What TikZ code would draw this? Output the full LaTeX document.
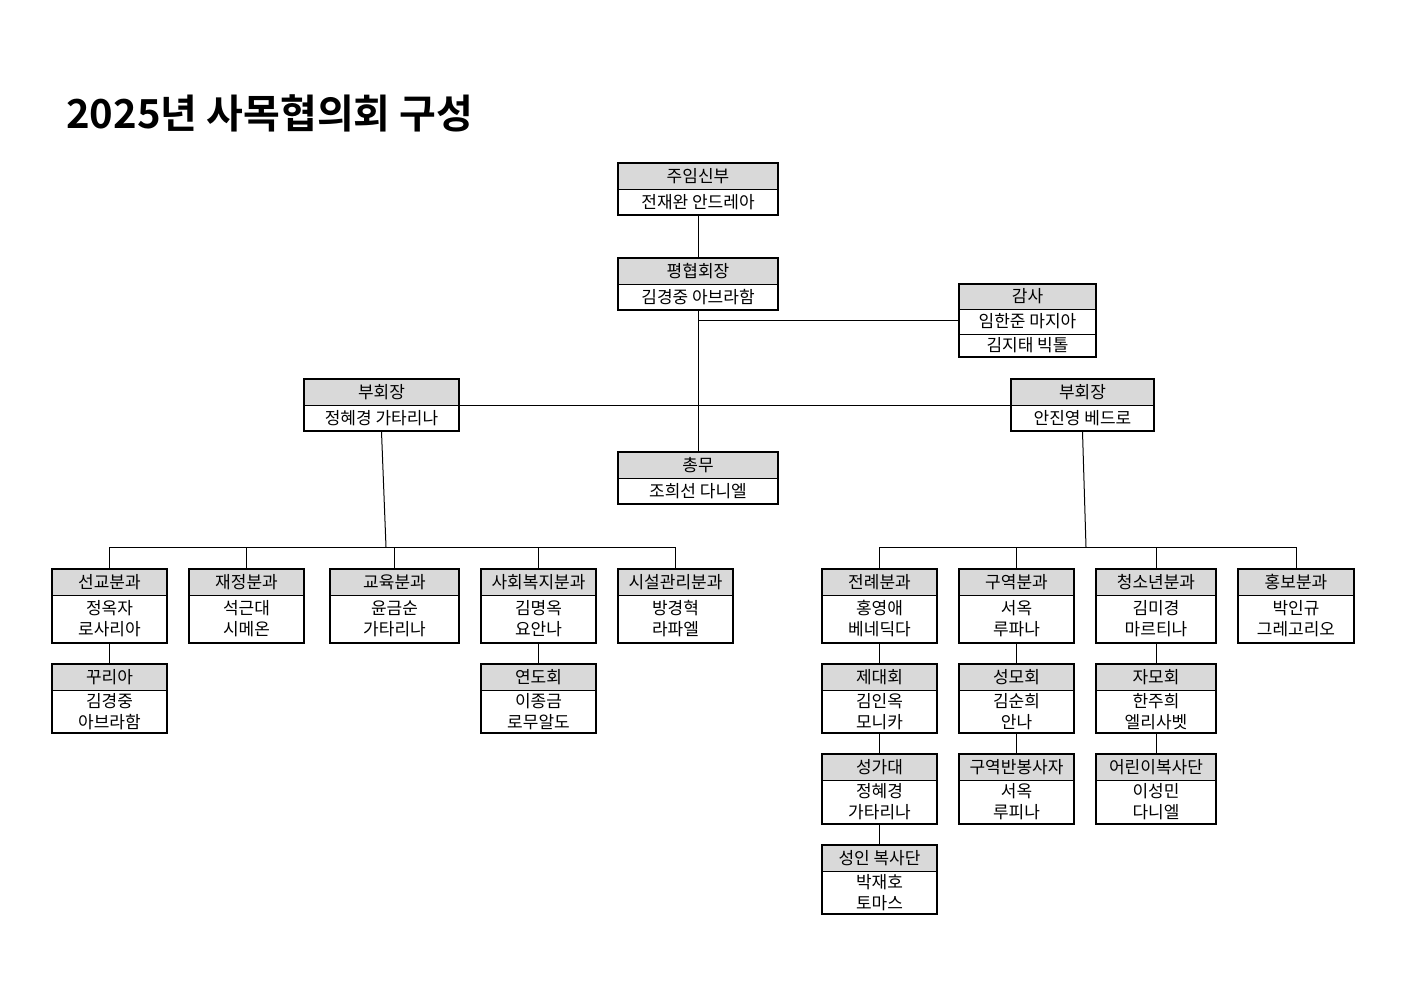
\documentclass[tikz,border=0pt]{standalone}
\usepackage{fontspec}
\newfontfamily\kr{Noto Sans CJK KR}
\newfontfamily\krb{Noto Sans CJK KR Bold}
\begin{document}
\begin{tikzpicture}[x=0.5pt,y=-0.5pt,
  box/.style={draw,line width=0.6pt,inner sep=0pt,fill=none},
  hdr/.style={fill=black!15},
  txt/.style={font=\kr\fontsize{8.5}{10.5}\selectfont,align=center,inner sep=0pt},
  con/.style={line width=0.5pt}]
\useasboundingbox (0,0) rectangle (1403,992);
\newcommand\obox[8]{%
  \fill[hdr] (#2,#3) rectangle (#4,#5);
  \draw[line width=0.5pt] (#2,#5) -- (#4,#5);
  \node[box,minimum width={(#4-#2)*0.5pt},minimum height={(#6-#3)*0.5pt}] (#1) at ({(#2+#4)/2},{(#3+#6)/2}) {};
  \node[txt] (#1-h) at ({(#2+#4)/2},{(#3+#5)/2}) {#7};
  \node[txt] (#1-b) at ({(#2+#4)/2},{(#5+#6)/2}) {#8};}
\node[anchor=west,font=\krb\fontsize{20}{24}\selectfont,inner sep=0pt] (title) at (66,113) {2025년 사목협의회 구성};
\obox{priest}{618}{163}{778}{189}{215}{주임신부}{전재완 안드레아}
\obox{pres}{618}{258}{778}{284}{310}{평협회장}{김경중 아브라함}
% audit
\fill[hdr] (959,284) rectangle (1096,309);
\draw[line width=0.5pt] (959,309) -- (1096,309) (959,334) -- (1096,334);
\node[box,minimum width={137*0.5pt},minimum height={73*0.5pt}] (audit) at (1027.5,320.5) {};
\node[txt] at (1027.5,296.5) {감사};
\node[txt] at (1027.5,321.5) {임한준 마지아};
\node[txt] at (1027.5,345.5) {김지태 빅톨};
\obox{vpl}{304}{379}{459}{405}{431}{부회장}{정혜경 가타리나}
\obox{vpr}{1011}{379}{1154}{405}{431}{부회장}{안진영 베드로}
\obox{gen}{618}{452}{778}{478}{504}{총무}{조희선 다니엘}
\obox{d1}{52}{569}{167}{595}{643}{선교분과}{정옥자\\로사리아}
\obox{d2}{189}{569}{304}{595}{643}{재정분과}{석근대\\시메온}
\obox{d3}{330}{569}{459}{595}{643}{교육분과}{윤금순\\가타리나}
\obox{d4}{481}{569}{596}{595}{643}{사회복지분과}{김명옥\\요안나}
\obox{d5}{618}{569}{733}{595}{643}{시설관리분과}{방경혁\\라파엘}
\obox{d6}{822}{569}{937}{595}{643}{전례분과}{홍영애\\베네딕다}
\obox{d7}{959}{569}{1074}{595}{643}{구역분과}{서옥\\루파나}
\obox{d8}{1096}{569}{1216}{595}{643}{청소년분과}{김미경\\마르티나}
\obox{d9}{1238}{569}{1354}{595}{643}{홍보분과}{박인규\\그레고리오}
\obox{e1}{52}{664}{167}{690}{733}{꾸리아}{김경중\\아브라함}
\obox{e4}{481}{664}{596}{690}{733}{연도회}{이종금\\로무알도}
\obox{e6}{822}{664}{937}{690}{733}{제대회}{김인옥\\모니카}
\obox{e7}{959}{664}{1074}{690}{733}{성모회}{김순희\\안나}
\obox{e8}{1096}{664}{1216}{690}{733}{자모회}{한주희\\엘리사벳}
\obox{f6}{822}{754}{937}{780}{824}{성가대}{정혜경\\가타리나}
\obox{f7}{959}{754}{1074}{780}{824}{구역반봉사자}{서옥\\루피나}
\obox{f8}{1096}{754}{1216}{780}{824}{어린이복사단}{이성민\\다니엘}
\obox{g6}{822}{845}{937}{871}{914}{성인 복사단}{박재호\\토마스}
% connectors
\draw[con] (priest.south) -- (pres.north);
\draw[con] (pres.south) -- (gen.north);
\draw[con] (pres.south |- audit.east) -- (audit.west);
\draw[con] (vpl.east |- 0,405) -- (vpr.west |- 0,405);
\coordinate (bl) at (386,547);
\coordinate (br) at (1086,547);
\draw[con] (vpl.south) -- (bl);
\draw[con] (vpr.south) -- (br);
\draw[con] (d1.north) -- (d1.north |- bl) -- (d5.north |- bl) -- (d5.north);
\foreach \n in {d2,d3,d4} \draw[con] (\n.north) -- (\n.north |- bl);
\draw[con] (d6.north) -- (d6.north |- br) -- (d9.north |- br) -- (d9.north);
\foreach \n in {d7,d8} \draw[con] (\n.north) -- (\n.north |- br);
\draw[con] (d1.south) -- (e1.north);
\draw[con] (d4.south) -- (e4.north);
\draw[con] (d6.south) -- (e6.north);
\draw[con] (d7.south) -- (e7.north);
\draw[con] (d8.south) -- (e8.north);
\draw[con] (e6.south) -- (f6.north);
\draw[con] (e7.south) -- (f7.north);
\draw[con] (e8.south) -- (f8.north);
\draw[con] (f6.south) -- (g6.north);
\end{tikzpicture}
\end{document}
